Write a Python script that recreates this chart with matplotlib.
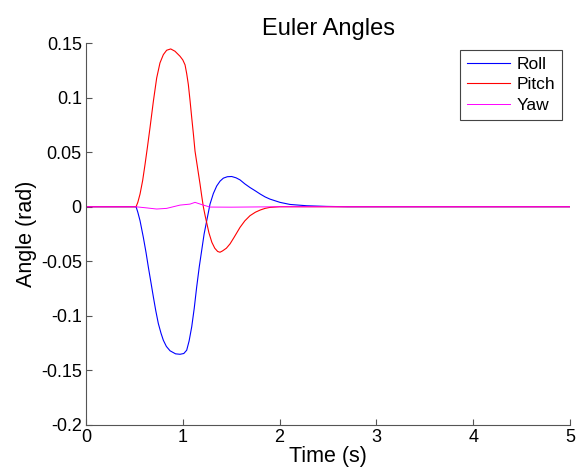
import matplotlib.pyplot as plt

plt.rcParams['font.family'] = ['Liberation Sans', 'DejaVu Sans']

# Roll (rad)
roll_t = [0.0, 0.517, 0.535, 0.558, 0.592, 0.62, 0.644, 0.67, 0.696, 0.72, 0.747,
          0.775, 0.799, 0.83, 0.868, 0.925, 0.971, 1.01, 1.04, 1.065, 1.092,
          1.118, 1.143, 1.17, 1.195, 1.22, 1.247, 1.281, 1.315, 1.35, 1.385,
          1.419, 1.46, 1.505, 1.55, 1.591, 1.64, 1.694, 1.75, 1.80, 1.85,
          1.90, 2.004, 2.107, 2.28, 2.487, 2.7, 5.0]
roll_v = [0.0, 0.0, -0.005, -0.0128, -0.028, -0.042, -0.0554, -0.069, -0.0828, -0.095, -0.107,
          -0.116, -0.1224, -0.128, -0.132, -0.1348, -0.1352, -0.1345, -0.1315, -0.123, -0.110,
          -0.093, -0.0737, -0.055, -0.040, -0.025, -0.0128, 0.0024, 0.012, 0.019, 0.0235,
          0.0262, 0.0275, 0.0277, 0.0265, 0.0246, 0.021, 0.0176, 0.0145, 0.0116, 0.009,
          0.007, 0.004, 0.0021, 0.0009, 0.0003, 0.0, 0.0]

# Pitch (rad)
pitch_t = [0.0, 0.517, 0.535, 0.558, 0.585, 0.61, 0.635, 0.661, 0.696, 0.730, 0.764,
           0.799, 0.833, 0.875, 0.919, 0.971, 1.0, 1.023, 1.04, 1.057, 1.075,
           1.092, 1.11, 1.126, 1.15, 1.178, 1.195, 1.212, 1.23, 1.27, 1.30,
           1.33, 1.36, 1.384, 1.41, 1.45, 1.488, 1.53, 1.591, 1.64, 1.694,
           1.75, 1.80, 1.85, 1.90, 2.0, 5.0]
pitch_v = [0.0, 0.0, 0.004, 0.0116, 0.024, 0.039, 0.055, 0.0724, 0.0968, 0.118, 0.1318,
           0.1394, 0.1434, 0.1446, 0.1425, 0.1379, 0.1345, 0.130, 0.122, 0.112, 0.097,
           0.0816, 0.066, 0.051, 0.037, 0.0207, 0.010, 0.0, -0.008, -0.024, -0.0326,
           -0.038, -0.041, -0.0417, -0.0405, -0.038, -0.034, -0.028, -0.0189, -0.013, -0.0082,
           -0.005, -0.003, -0.0015, -0.0006, 0.0, 0.0]

# Yaw (rad)
yaw_t = [0.0, 0.51, 0.62, 0.73, 0.833, 0.971, 1.074, 1.126, 1.212, 1.281, 1.5, 2.0, 5.0]
yaw_v = [0.0, 0.0, -0.001, -0.0021, -0.0015, 0.0015, 0.0024, 0.004, 0.0015, -0.0003, -0.0004, 0.0, 0.0]

xticks = [0, 1, 2, 3, 4, 5]
yticks = [-0.2, -0.15, -0.1, -0.05, 0, 0.05, 0.1, 0.15]
ytick_labels = ['-0.2', '-0.15', '-0.1', '-0.05', '0', '0.05', '0.1', '0.15']

fig = plt.figure(figsize=(5.82, 4.73), dpi=100)
ax = fig.add_axes([0.1478, 0.1015, 0.8316, 0.8075])

ax.plot(roll_t, roll_v, color='#0000ff', lw=0.8, label='Roll')
ax.plot(pitch_t, pitch_v, color='#ff0000', lw=0.8, label='Pitch')
ax.plot(yaw_t, yaw_v, color='#ff00ff', lw=0.7, label='Yaw')

ax.set_xlim(0, 5)
ax.set_ylim(-0.2, 0.15)
ax.set_xticks(xticks)
ax.set_xticklabels([str(x) for x in xticks])
ax.set_yticks(yticks)
ax.set_yticklabels(ytick_labels)

for side in ['top', 'right']:
    ax.spines[side].set_visible(False)
for side in ['left', 'bottom']:
    ax.spines[side].set_color('#555555')
    ax.spines[side].set_linewidth(0.8)
ax.tick_params(direction='in', length=4, width=0.8, color='#555555',
               labelsize=13, labelcolor='black', pad=3)

ax.set_title('Euler Angles', fontsize=17, pad=6)
ax.set_xlabel('Time (s)', fontsize=15.5, labelpad=0)
ax.set_ylabel('Angle (rad)', fontsize=15.5, labelpad=3)

leg = ax.legend(loc='upper right', bbox_to_anchor=(0.983, 0.982), borderaxespad=0,
                fontsize=12.5, fancybox=False, framealpha=1, edgecolor='#444444',
                handlelength=2.5, borderpad=0.4, labelspacing=0.3, handletextpad=0.35)
leg.get_frame().set_linewidth(0.8)

fig.savefig('out.png', dpi=100)
